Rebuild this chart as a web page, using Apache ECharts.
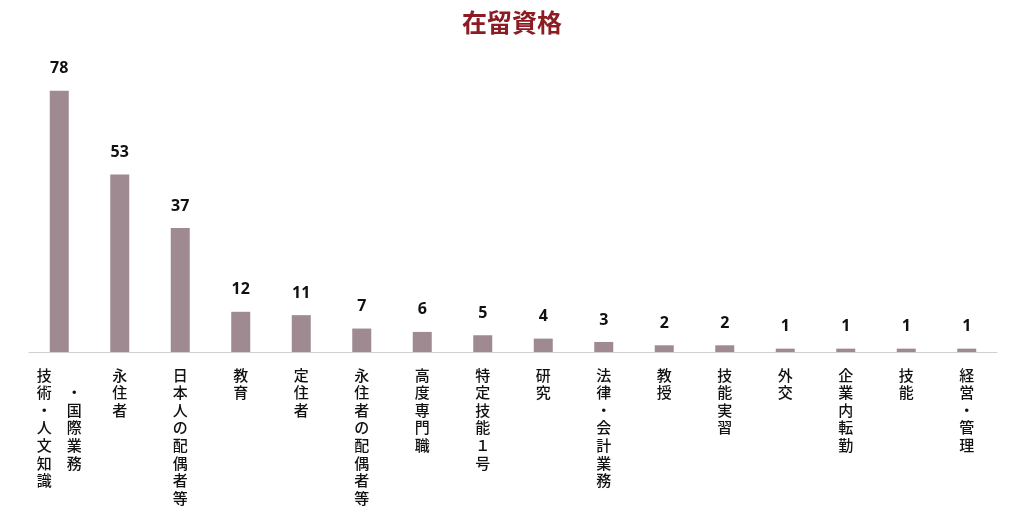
<!DOCTYPE html>
<html>
<head>
    <meta charset="utf-8">
    <script src="https://cdn.jsdelivr.net/npm/echarts@6/dist/echarts.min.js"></script>
    <style>
        html, body { margin: 0; padding: 0; background: #fff; }
    </style>
</head>
<body>
    <div id="main" style="width: 1024px;height:516px;"></div>
    <script type="text/javascript">

    var categories = ['技術・人文知識・国際業務', '永住者', '日本人の配偶者等', '教育', '定住者',
        '永住者の配偶者等', '高度専門職', '特定技能１号', '研究', '法律・会計業務',
        '教授', '技能実習', '外交', '企業内転勤', '技能', '経営・管理'];
    var values = [78, 53, 37, 12, 11, 7, 6, 5, 4, 3, 2, 2, 1, 1, 1, 1];

    // vertical text, first label wraps into two columns
    function verticalLabel(name) {
        if (name === '技術・人文知識・国際業務') {
            var col1 = '技術・人文知識'.split('');
            var col2 = ['　', '・', '国', '際', '業', '務', '　'];
            var lines = [];
            for (var i = 0; i < col1.length; i++) {
                lines.push(col1[i] + '　' + col2[i]);
            }
            return lines.join('\n');
        }
        return name.split('').join('\n');
    }

    var myChart = echarts.init(document.getElementById('main'));

    myChart.setOption({
        animation: false,
        title: {
            text: '在留資格',
            left: 'center',
            top: 5,
            textStyle: {
                color: '#8c1c24',
                fontSize: 25,
                fontWeight: 'bold',
                fontFamily: 'Noto Sans CJK JP'
            }
        },
        grid: {
            left: 29,
            right: 27,
            top: 17,
            bottom: 164
        },
        xAxis: {
            type: 'category',
            data: categories,
            axisLine: {lineStyle: {color: '#d0d0d0', width: 1}},
            axisTick: {show: false},
            axisLabel: {
                interval: 0,
                margin: 14,
                color: '#111',
                fontSize: 15,
                fontWeight: 500,
                lineHeight: 17.6,
                fontFamily: 'Noto Sans CJK JP',
                formatter: verticalLabel
            }
        },
        yAxis: {
            type: 'value',
            min: 0,
            max: 100,
            show: false,
            splitLine: {show: false}
        },
        series: [
            {
                type: 'bar',
                data: values,
                barWidth: 19,
                itemStyle: {color: '#9e8a90'},
                label: {
                    show: true,
                    position: 'top',
                    distance: 14,
                    color: '#111',
                    fontSize: 16,
                    fontWeight: 'bold',
                    fontFamily: 'Noto Sans'
                }
            }
        ]
    });
    </script>
</body>
</html>
